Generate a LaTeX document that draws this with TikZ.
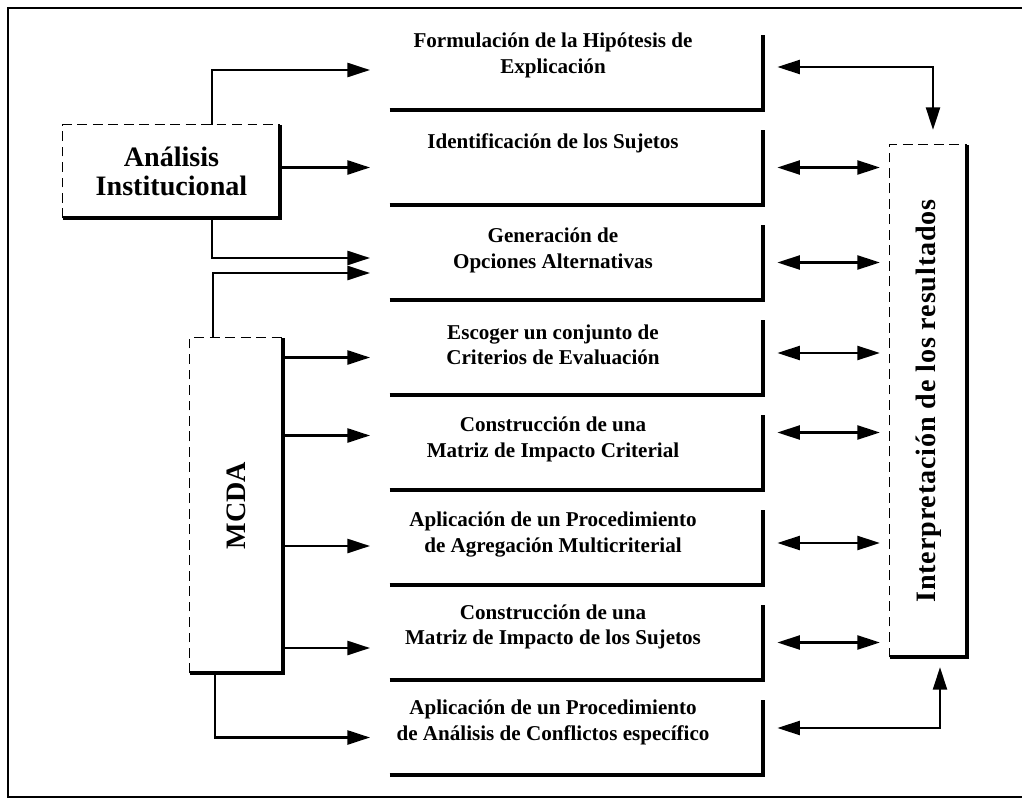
\documentclass[tikz,border=0pt]{standalone}
\usepackage{fontspec}
\setmainfont{Liberation Serif}
\usetikzlibrary{arrows.meta}

\tikzset{
  boxtext/.style={font=\bfseries\fontsize{15}{18}\selectfont, align=center},
  bigtext/.style={font=\bfseries\fontsize{20}{21}\selectfont, align=center},
  stepbox/.style={minimum width=9.325cm, minimum height=1.875cm, inner sep=0pt},
}

\begin{document}
\begin{tikzpicture}[x=0.025cm, y=-0.025cm,
    conn/.style={line width=1.5pt, -{Triangle[length=16pt,width=10pt]}},
    both/.style={line width=1.5pt, {Triangle[length=16pt,width=10pt]}-{Triangle[length=16pt,width=10pt]}},
    heavy/.style={line width=3pt},
    faint/.style={line width=0.9pt, dash pattern=on 7pt off 4pt}]

    \useasboundingbox (0,0) rectangle (1022,802);

    % marco exterior
    \draw[line width=1.3pt] (1022,8) -- (8,8) -- (8,797) -- (1022,797);

    % cajas de las etapas
    \foreach \i/\yb/\yt/\txt in {
        1/110/55.5/{Formulación de la Hipótesis de\\Explicación},
        2/205/143/{Identificación de los Sujetos},
        3/300/250.5/{Generación de\\Opciones Alternativas},
        4/395/344.5/{Escoger un conjunto de\\Criterios de Evaluación},
        5/490/439.5/{Construcción de una\\Matriz de Impacto Criterial},
        6/585/534.5/{Aplicación de un Procedimiento\\de Agregación Multicriterial},
        7/680/627/{Construcción de una\\Matriz de Impacto de los Sujetos},
        8/775/722.5/{Aplicación de un Procedimiento\\de Análisis de Conflictos específico}} {
        \node[stepbox] (b\i) at (576.5,\yb-37.5) {};
        \node[boxtext] (t\i) at (553,\yt) {\txt};
        \draw[heavy] (b\i.south west) -- (b\i.south east) -- (b\i.north east);
    }

    % bloques laterales
    \node[bigtext, minimum width=5.425cm, minimum height=2.325cm] (anal) at (171.5,171.5) {Análisis\\Institucional};
    \draw[faint] (anal.south west) -- (anal.north west) -- (anal.north east);
    \draw[heavy] (anal.south west) -- (anal.south east) -- (anal.north east);

    \node[bigtext, minimum width=2.325cm, minimum height=8.375cm] (mcda) at (236.5,505.5) {\rotatebox{90}{MCDA}};
    \draw[faint] (mcda.south west) -- (mcda.north west) -- (mcda.north east);
    \draw[heavy] (mcda.south west) -- (mcda.south east) -- (mcda.north east);

    \node[bigtext, minimum width=1.925cm, minimum height=12.8cm] (interp) at (928.5,401)
        {\rotatebox{90}{\addfontfeatures{LetterSpace=3}Interpretación de los resultados}};
    \draw[faint] (interp.south west) -- (interp.north west) -- (interp.north east);
    \draw[heavy] (interp.south west) -- (interp.south east) -- (interp.north east);

    % flechas desde Analisis Institucional
    \draw[conn, shorten >=14pt] ([shift={(40.5,0)}]anal.north) |- ([shift={(0,-2.5)}]b1.west);
    \draw[conn, shorten >=14pt] (anal.east |- b2.west) -- (b2.west);
    \draw[conn, shorten >=14pt] ([shift={(40.5,0)}]anal.south) |- ([shift={(0,-4.5)}]b3.west);

    % flechas desde MCDA
    \draw[conn, shorten >=14pt] ([shift={(-23.5,0)}]mcda.north) |- ([shift={(0,10.5)}]b3.west);
    \foreach \i/\dy in {4/0, 5/-17, 6/-1.5, 7/5.5}
        \draw[conn, shorten >=14pt] ([shift={(0,\dy)}]mcda.east |- b\i.west) -- ([shift={(0,\dy)}]b\i.west);
    \draw[conn, shorten >=14pt] ([shift={(-21.5,0)}]mcda.south) |- (b8.west);

    % flechas hacia la interpretacion
    \draw[both, shorten <=10pt, shorten >=10.5pt] ([shift={(0,-5.5)}]b1.east) -| ([shift={(4.5,0)}]interp.north);
    \foreach \i/\dy in {2/0, 3/0, 4/-4.5, 5/-20, 6/-4.5, 7/0}
        \draw[both, shorten <=10pt, shorten >=7pt] ([shift={(0,\dy)}]b\i.east) -- ([shift={(0,\dy)}]b\i.east -| interp.west);
    \draw[both, shorten <=10pt, shorten >=7pt] ([shift={(0,-9.5)}]b8.east) -| ([shift={(11.5,0)}]interp.south);
\end{tikzpicture}
\end{document}
